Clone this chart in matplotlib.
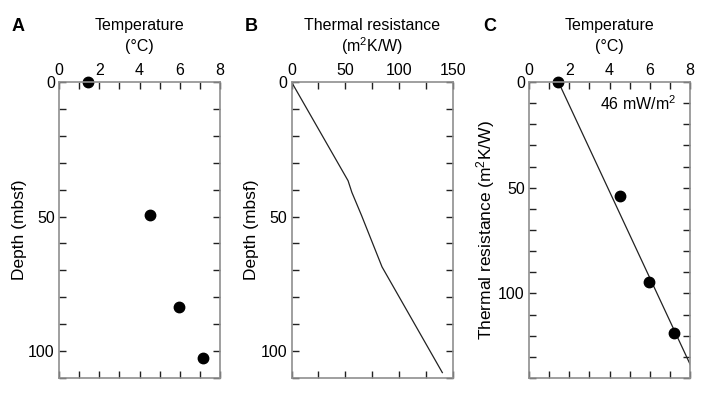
import matplotlib
matplotlib.use("Agg")
import matplotlib.pyplot as plt
from matplotlib.ticker import MultipleLocator

# Panel A: temperature vs depth
temp_a = [1.43, 4.53, 5.95, 7.15]
depth_a = [0, 49.6, 83.6, 102.6]

# Panel B: cumulative thermal resistance vs depth
res_b = [0, 52.5, 56, 65, 84, 140]
depth_b = [0, 36.7, 41, 49.6, 68.7, 108]

# Panel C: temperature vs thermal resistance (Bullard plot)
temp_c = [1.43, 4.53, 5.95, 7.18]
res_c = [0, 54, 94.7, 118.5]
fit_temp = [1.46, 8.04]
fit_res = [0, 134.3]

plt.rcParams.update({"font.family": ["Liberation Sans", "DejaVu Sans"],
                     "font.size": 11,
                     "mathtext.fontset": "custom",
                     "mathtext.rm": "Liberation Sans",
                     "mathtext.it": "Liberation Sans",
                     "mathtext.default": "rm"})

SPINE = "#8f8f8f"
TICK = "#222222"

fig = plt.figure(figsize=(7.05, 3.93), dpi=100)
w, h, b = 0.2284, 0.7532, 0.0382
axA = fig.add_axes([0.0837, b, w, h])
axB = fig.add_axes([0.4135, b, 0.2292, h])
axC = fig.add_axes([0.7504, b, w, h])


def style(ax, xlab1, xlab2, ylab, xmax, xmaj, xmin, ymax, ymaj):
    ax.set_xlim(0, xmax)
    ax.set_ylim(ymax, 0)
    ax.xaxis.set_major_locator(MultipleLocator(xmaj))
    ax.xaxis.set_minor_locator(MultipleLocator(xmin))
    ax.yaxis.set_major_locator(MultipleLocator(ymaj))
    ax.yaxis.set_minor_locator(MultipleLocator(10))
    ax.xaxis.set_ticks_position("both")
    ax.yaxis.set_ticks_position("both")
    ax.tick_params(which="both", direction="in", color=TICK, width=1.0,
                   length=5, labeltop=True, labelbottom=False, pad=3,
                   labelsize=11.5)
    for s in ax.spines.values():
        s.set_color(SPINE)
        s.set_linewidth(1.2)
    # two-line axis title above the top tick labels
    ax.text(0.5, 1.192, xlab1, transform=ax.transAxes, ha="center",
            va="center", fontsize=11.5)
    ax.text(0.5, 1.12, xlab2, transform=ax.transAxes, ha="center",
            va="center", fontsize=11.5)
    ax.set_ylabel(ylab, labelpad=1, fontsize=12.5)


style(axA, "Temperature", "(°C)", "Depth (mbsf)", 8, 2, 1, 110, 50)
axA.plot(temp_a, depth_a, "o", color="black", markersize=7.5, clip_on=False)

style(axB, "Thermal resistance", "(m$^2$K/W)", "Depth (mbsf)",
      150, 50, 25, 110, 50)
axB.plot(res_b, depth_b, "-", color="#222222", linewidth=0.9)

style(axC, "Temperature", "(°C)", "Thermal resistance (m$^2$K/W)",
      8, 2, 1, 140, 50)
axC.plot(fit_temp, fit_res, "-", color="#222222", linewidth=0.9)
axC.plot(temp_c, res_c, "o", color="black", markersize=7.5, clip_on=False)
axC.text(0.68, 0.926, "46 mW/m$^2$", transform=axC.transAxes,
         ha="center", va="center", fontsize=11.5)

for x, lab in [(0.017, "A"), (0.347, "B"), (0.685, "C")]:
    fig.text(x, 0.932, lab, fontsize=13, fontweight="bold", ha="left", va="center")

fig.savefig("out.png", dpi=100)
